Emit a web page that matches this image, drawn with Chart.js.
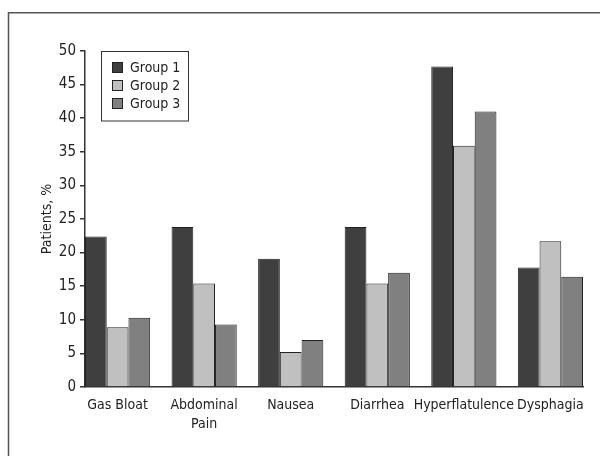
<!DOCTYPE html>
<html lang="en">
<head>
    <meta charset="UTF-8">
    <title>Symptoms by Group</title>
    <script src="https://cdn.jsdelivr.net/npm/chart.js"></script>
    <style>
        * {
            margin: 0;
            padding: 0;
        }

        body {
            background-color: #ffffff;
        }

        .chart-block {
            width: 600px;
            height: 456px;
        }
    </style>
</head>
<body>
    <div class="chart-block">
        <canvas id="symptomChart"></canvas>
    </div>

    <script>
        // Data
        const categories = [['Gas Bloat'], ['Abdominal', 'Pain'], ['Nausea'], ['Diarrhea'], ['Hyperflatulence'], ['Dysphagia']];
        const groupNames = ['Group 1', 'Group 2', 'Group 3'];
        const group1 = [22.4, 23.8, 19.1, 23.8, 47.7, 17.8];
        const group2 = [8.9, 15.4, 5.2, 15.4, 35.9, 21.7];
        const group3 = [10.3, 9.3, 7.0, 17.0, 41.0, 16.4];
        const yTicks = [0, 5, 10, 15, 20, 25, 30, 35, 40, 45, 50];

        const FONT = "'DejaVu Sans Condensed', 'Liberation Sans Narrow', Arial, sans-serif";
        const colors = ['#3f3f3f', '#c0c0c0', '#808080'];

        // Outer frame (only top and left edges fall inside the picture)
        const framePlugin = {
            id: 'frame',
            beforeDraw(chart) {
                const ctx = chart.ctx;
                ctx.save();
                ctx.strokeStyle = '#555555';
                ctx.lineWidth = 1.5;
                ctx.strokeRect(8.5, 12.75, chart.width + 20, chart.height + 20);
                ctx.restore();
            }
        };

        // Boxed legend in the top left of the plot
        const boxLegendPlugin = {
            id: 'boxLegend',
            afterDraw(chart) {
                const ctx = chart.ctx;
                ctx.save();
                ctx.strokeStyle = '#333333';
                ctx.lineWidth = 1;
                ctx.strokeRect(101.5, 51.5, 87, 69.5);
                ctx.font = '14px ' + FONT;
                ctx.textBaseline = 'middle';
                chart.data.datasets.forEach((ds, i) => {
                    const y = 62.5 + i * 18;
                    ctx.fillStyle = ds.backgroundColor;
                    ctx.fillRect(112.5, y, 10, 10);
                    ctx.strokeStyle = '#222222';
                    ctx.strokeRect(112.5, y, 10, 10);
                    ctx.fillStyle = '#222222';
                    ctx.fillText(ds.label, 130, y + 5.5);
                });
                ctx.restore();
            }
        };

        const seriesValues = [group1, group2, group3];

        new Chart(document.getElementById('symptomChart'), {
            type: 'bar',
            data: {
                datasets: seriesValues.map((vals, i) => ({
                    label: groupNames[i],
                    data: vals.map((v, j) => ({ x: j, y: v })),
                    backgroundColor: colors[i],
                    borderColor: '#222222',
                    borderWidth: 1,
                    categoryPercentage: 0.753,
                    barPercentage: 1
                }))
            },
            options: {
                responsive: true,
                maintainAspectRatio: false,
                animation: false,
                layout: {
                    padding: { top: 51, right: 17, bottom: 0, left: 0 }
                },
                plugins: {
                    legend: { display: false },
                    tooltip: { enabled: false }
                },
                scales: {
                    x: {
                        type: 'linear',
                        offset: false,
                        min: -0.3765,
                        max: 5.3765,
                        grid: { display: false, drawTicks: false, offset: false },
                        border: { display: true, color: '#333333', width: 1.5 },
                        ticks: {
                            stepSize: 1,
                            includeBounds: false,
                            autoSkip: false,
                            maxRotation: 0,
                            minRotation: 0,
                            padding: 9,
                            color: '#222222',
                            font: { family: FONT, size: 14, lineHeight: 1.36 },
                            callback: (v) => categories[v] || ''
                        },
                        afterFit(scale) {
                            scale.height = 69;
                        }
                    },
                    y: {
                        min: 0,
                        max: 50,
                        afterBuildTicks(scale) {
                            scale.ticks = yTicks.map(v => ({ value: v }));
                        },
                        grid: {
                            display: true,
                            drawOnChartArea: false,
                            tickLength: 5,
                            color: '#333333',
                            lineWidth: 1.5
                        },
                        border: { display: true, color: '#333333', width: 1.5 },
                        ticks: {
                            padding: 4,
                            color: '#222222',
                            font: { family: FONT, size: 15 }
                        },
                        title: {
                            display: true,
                            text: 'Patients, %',
                            color: '#222222',
                            font: { family: FONT, size: 14, lineHeight: 1.2 },
                            padding: { top: 39, bottom: 0 }
                        },
                        afterFit(scale) {
                            scale.width = 85;
                        }
                    }
                }
            },
            plugins: [framePlugin, boxLegendPlugin]
        });
    </script>
</body>
</html>
